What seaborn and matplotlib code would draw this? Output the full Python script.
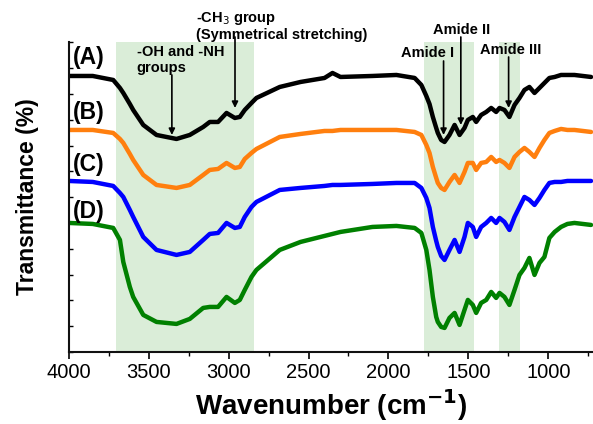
import numpy as np
import pandas as pd
import matplotlib
matplotlib.use("Agg")
import matplotlib.pyplot as plt
import seaborn as sns

wavenumber = [4000, 3850, 3722, 3680, 3659, 3618, 3597, 3534, 3451, 3326,
              3243, 3159, 3118, 3066, 3013, 2961, 2930, 2899, 2857, 2826,
              2680, 2550, 2400, 2350, 2300, 2100, 1950, 1836, 1794, 1763,
              1743, 1722, 1701, 1691, 1670, 1649, 1618, 1586, 1555, 1524,
              1503, 1472, 1451, 1420, 1388, 1357, 1326, 1305, 1274, 1243,
              1211, 1180, 1149, 1118, 1086, 1055, 1024, 993, 960, 920,
              880, 836, 732]

trans_A = [276, 276, 272, 264, 259, 248, 242, 227, 217, 213,
           217, 225, 230, 230, 239, 234, 235, 242, 249, 254,
           265, 270, 274, 279, 275, 276, 277, 274, 267, 256,
           248, 235, 224, 219, 212, 210, 217, 227, 217, 224,
           232, 235, 230, 237, 240, 244, 240, 244, 242, 235,
           247, 254, 262, 265, 259, 264, 269, 274, 275, 277,
           277, 277, 275]
trans_B = [222, 222, 219, 213, 209, 198, 192, 177, 167, 164,
           167, 177, 182, 183, 189, 184, 185, 193, 199, 203,
           215, 218, 221, 221, 222, 222, 222, 220, 217, 207,
           199, 185, 174, 169, 164, 162, 170, 177, 169, 180,
           189, 189, 182, 189, 190, 195, 190, 192, 189, 184,
           195, 200, 204, 200, 195, 204, 212, 219, 221, 223,
           222, 222, 220]
trans_C = [171, 170, 166, 159, 155, 142, 135, 115, 102, 97,
           100, 112, 118, 119, 129, 124, 125, 135, 145, 150,
           162, 164, 166, 167, 167, 168, 169, 169, 164, 154,
           144, 125, 111, 105, 96, 92, 102, 112, 100, 115,
           129, 125, 115, 125, 129, 134, 129, 134, 130, 122,
           135, 145, 155, 152, 147, 154, 162, 169, 170, 170,
           171, 171, 171]
trans_D = [129, 128, 124, 112, 90, 65, 55, 37, 30, 28,
           33, 44, 45, 45, 55, 49, 52, 62, 75, 82,
           102, 110, 116, 118, 120, 125, 126, 124, 119, 102,
           82, 55, 35, 30, 25, 24, 34, 39, 27, 42,
           52, 47, 39, 49, 52, 60, 54, 59, 55, 47,
           62, 77, 84, 94, 77, 89, 95, 114, 120, 125,
           128, 129, 127]

series_labels = ["(A)", "(B)", "(C)", "(D)"]
series_colors = ["#000000", "#ff7f0e", "#0000ff", "#008000"]
label_y = [294, 239, 187, 140]

bands = [(3705, 2840), (1780, 1463), (1311, 1174)]

# text, arrow x, arrow tail y, arrow head y, text x, text y, alignment
annotations = [
    ("-OH and -NH\ngroups", 3355, 277, 217, 3574, 292, "left"),
    ("-CH$_3$ group\n(Symmetrical stretching)", 2960, 315, 244, 3205, 326, "left"),
    ("Amide I", 1655, 291, 217, 1755, 299, "center"),
    ("Amide II", 1547, 315, 227, 1539, 322, "center"),
    ("Amide III", 1248, 295, 244, 1233, 302, "center"),
]

sns.set_style("ticks")
plt.rcParams["font.family"] = ["Liberation Sans", "DejaVu Sans"]
plt.rcParams["text.color"] = "black"
plt.rcParams["axes.labelcolor"] = "black"
plt.rcParams["xtick.color"] = "black"
plt.rcParams["ytick.color"] = "black"

fig = plt.figure(figsize=(5.93, 4.24), dpi=100)
ax = fig.add_axes([0.116, 0.170, 0.884, 0.731])

for lo, hi in bands:
    ax.axvspan(hi, lo, color="#daedd8", lw=0, zorder=0)

frames = []
for lab, ys in zip(series_labels, [trans_A, trans_B, trans_C, trans_D]):
    frames.append(pd.DataFrame({"wn": wavenumber, "T": ys, "sample": lab}))
df = pd.concat(frames, ignore_index=True)

sns.lineplot(data=df, x="wn", y="T", hue="sample", palette=series_colors,
             linewidth=3.2, legend=False, ax=ax, sort=False,
             solid_joinstyle="round", solid_capstyle="round")

for lab, yy in zip(series_labels, label_y):
    ax.text(3975, yy, lab, fontsize=16.5, fontweight="bold", ha="left",
            va="center", color="black")

for txt, xa, y0, y1, xt, yt, ha in annotations:
    ax.annotate("", xy=(xa, y1), xytext=(xa, y0),
                arrowprops=dict(arrowstyle="-|>", color="black", lw=1.2,
                                mutation_scale=9, shrinkA=0, shrinkB=0),
                annotation_clip=False)
    ax.text(xt, yt, txt, fontsize=10.5, fontweight="bold", ha=ha, va="center",
            linespacing=1.1, clip_on=False, color="black")

ax.set_xlim(4000, 720)
ax.set_ylim(0, 310)
ax.set_xticks([4000, 3500, 3000, 2500, 2000, 1500, 1000])
ax.set_xticks(np.arange(3750, 700, -500), minor=True)
ax.set_yticks(np.arange(0, 311, 25.8))
ax.set_yticklabels([])
ax.tick_params(axis="x", which="major", direction="out", length=5, width=1.2,
               labelsize=14.5, pad=3, colors="black")
ax.tick_params(axis="x", which="minor", direction="out", length=3, width=1.0,
               colors="black")
ax.tick_params(axis="y", direction="in", length=3, width=1.0, colors="black")

for s in ["top", "right"]:
    ax.spines[s].set_visible(False)
for s in ["left", "bottom"]:
    ax.spines[s].set_linewidth(1.5)
    ax.spines[s].set_color("#111111")

ax.set_xlabel("Wavenumber (cm$^{\\mathbf{-1}}$)", fontsize=20, fontweight="bold",
              labelpad=4, color="black")
ax.set_ylabel("Transmittance (%)", fontsize=16.5, fontweight="bold",
              labelpad=18, color="black")

fig.savefig("out.png", dpi=100)
